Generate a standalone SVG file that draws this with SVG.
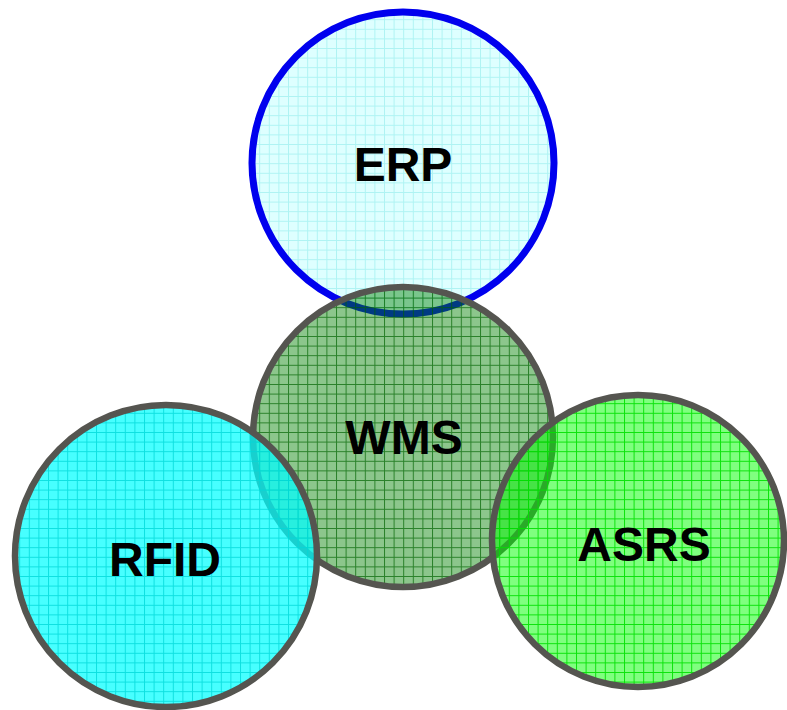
<svg xmlns="http://www.w3.org/2000/svg" width="787" height="710" viewBox="0 0 787 710">
<defs>
<pattern id="pErp" patternUnits="userSpaceOnUse" width="9.6" height="9.6">
<rect width="9.6" height="9.6" fill="#ccffff" fill-opacity="0.65"/>
<path d="M0 0.5H9.6M0.5 0V9.6" stroke="#99eeee" stroke-opacity="0.7" stroke-width="1"/>
</pattern>
<pattern id="pWms" patternUnits="userSpaceOnUse" width="9.6" height="9.6">
<rect width="9.6" height="9.6" fill="#008000" fill-opacity="0.45"/>
<path d="M0 0.5H9.6M0.5 0V9.6" stroke="#006400" stroke-opacity="0.7" stroke-width="1"/>
</pattern>
<pattern id="pRfid" patternUnits="userSpaceOnUse" width="9.6" height="9.6">
<rect width="9.6" height="9.6" fill="#00ffff" fill-opacity="0.72"/>
<path d="M0 0.5H9.6M0.5 0V9.6" stroke="#00d8d8" stroke-opacity="0.8" stroke-width="1"/>
</pattern>
<pattern id="pAsrs" patternUnits="userSpaceOnUse" width="9.6" height="9.6">
<rect width="9.6" height="9.6" fill="#00ff00" fill-opacity="0.5"/>
<path d="M0 0.5H9.6M0.5 0V9.6" stroke="#00e000" stroke-opacity="0.9" stroke-width="1"/>
</pattern>
</defs>
<style>
.lbl{font-family:"Liberation Sans",Arial,sans-serif;font-weight:bold;font-size:48px;fill:#000;text-anchor:middle}
.ring{stroke:#555550;stroke-width:6.5}
</style>
<g id="connectors"/>
<g id="erp">
<circle cx="403" cy="163" r="151" fill="url(#pErp)" stroke="#0000ee" stroke-width="7"/>
<text class="lbl" x="403" y="181">ERP</text>
</g>
<g id="wms">
<circle class="ring" cx="403" cy="437" r="150" fill="url(#pWms)"/>
<text class="lbl" x="404" y="454">WMS</text>
</g>
<g id="rfid">
<circle class="ring" cx="166" cy="556" r="151" fill="url(#pRfid)"/>
<text class="lbl" x="165" y="576">RFID</text>
</g>
<g id="asrs">
<circle class="ring" cx="638" cy="541" r="146" fill="url(#pAsrs)"/>
<text class="lbl" x="644" y="561">ASRS</text>
</g>
</svg>
